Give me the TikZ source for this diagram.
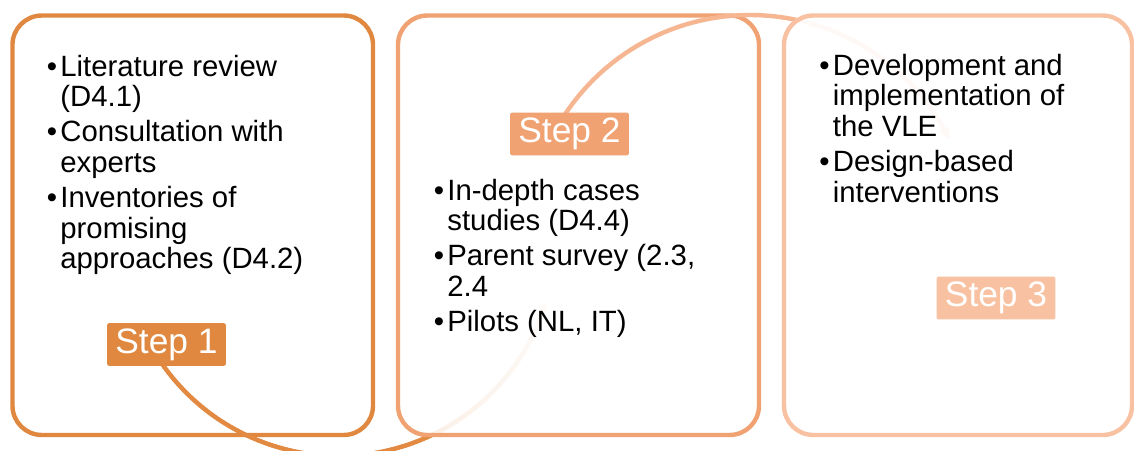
\documentclass[tikz,border=0pt]{standalone}
\usepackage{fontspec}
\setmainfont{Liberation Sans}
\usetikzlibrary{arrows.meta}

\definecolor{oneC}{RGB}{224,136,64}
\definecolor{twoC}{RGB}{240,162,114}
\definecolor{threeC}{RGB}{248,194,162}
\definecolor{arcOne}{RGB}{227,138,66}
\definecolor{arcTwo}{RGB}{245,182,145}

% bullet with hanging indent
\newcommand\bul{\makebox[10.2pt][l]{\textbullet}}
\newcommand\ind{\hspace*{10.2pt}}

\tikzset{
  stage/.style={draw, line width=3.3pt, rounded corners=22pt, inner sep=0pt,
                minimum height=314.6pt},
  steplabel/.style={inner sep=0pt, minimum width=89pt, minimum height=32pt,
                    rounded corners=1.5pt, text=white,
                    font=\fontsize{26.5}{30}\selectfont},
  bullets/.style={anchor=base west, inner sep=0pt,
                  font=\fontsize{22}{23}\selectfont},
  link/.style={line width=3.3pt},
}

\begin{document}
\begin{tikzpicture}[x=0.75pt, y=-0.75pt]
\useasboundingbox (0,0) rectangle (1134,450);
\clip (0,0) rectangle (1134,450);

\coordinate (c1) at (339,240);
\coordinate (c2) at (750,237);

% stage 1
\node[stage, draw=oneC, fill=white, minimum width=270.4pt] (b1) at (192.75,225.25) {};

% connector from step 1 to step 2, fading out inside stage 2
\foreach \a in {146,145,...,19}{
  \pgfmathtruncatemacro\p{\a>=64 ? 100 : 100-(64-\a)*70/46}
  \draw[link, line cap=round, color=arcOne!\p!white, shift={(c1)}]
    (\a:216) -- ({\a-1}:216);
}

% stage 2
\node[stage, draw=twoC, fill=white, fill opacity=0.88, minimum width=270.75pt] (b2) at (578.5,225.25) {};

% connector from step 2 to step 3
\draw[link, arcTwo, -{Stealth[length=9pt,width=8pt]}, shift={(c2)}]
  plot[domain=211:334, samples=80] (\x:222);

% stage 3
\node[stage, draw=threeC, fill=white, fill opacity=0.92, minimum width=261pt] (b3) at (958,225.25) {};

% contents
\node[bullets] (t1) at (46.5,76) {\parbox[t]{260pt}{%
  \bul Literature review\\
  \ind (D4.1)\\[3.3pt]
  \bul Consultation with\\
  \ind experts\\[3.3pt]
  \bul Inventories of\\
  \ind promising\\
  \ind approaches (D4.2)}};

\node[bullets] (t2) at (433.5,200) {\parbox[t]{260pt}{%
  \bul In-depth cases\\
  \ind studies (D4.4)\\[3.3pt]
  \bul Parent survey (2.3,\\
  \ind 2.4\\[3.3pt]
  \bul Pilots (NL, IT)}};

\node[bullets] (t3) at (819,75) {\parbox[t]{260pt}{%
  \bul Development and\\
  \ind implementation of\\
  \ind the VLE\\[3.3pt]
  \bul Design-based\\
  \ind interventions}};

% step labels
\node[steplabel, fill=oneC] (s1) at (166.5,344.5) {Step 1};
\node[steplabel, fill=twoC] (s2) at (569.5,134) {Step 2};
\node[steplabel, fill=threeC] (s3) at (996,298) {Step 3};
\end{tikzpicture}
\end{document}
